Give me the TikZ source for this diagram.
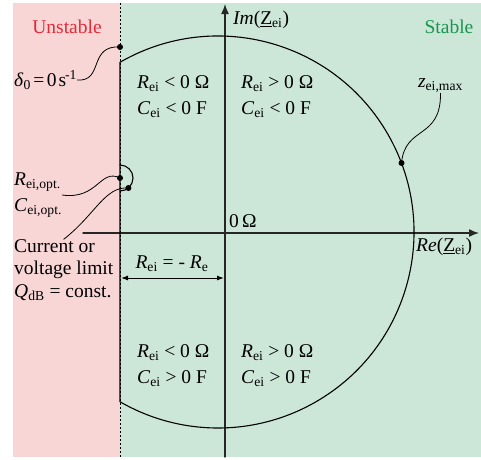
\documentclass[tikz,border=0pt]{standalone}
\usepackage{fontspec}
\setmainfont{Liberation Serif}
\usetikzlibrary{arrows.meta}

\definecolor{unstablebg}{RGB}{248,214,214}
\definecolor{stablebg}{RGB}{204,230,216}
\definecolor{unstablefg}{RGB}{230,40,55}
\definecolor{stablefg}{RGB}{26,150,78}
\newcommand{\eisub}[1]{\textit{#1}\textsubscript{ei}}

\begin{document}
\begin{tikzpicture}[x=1pt, y=-1pt, line cap=round, line join=round, >=Latex,
  every node/.style={font=\fontsize{19.5}{22.5}\selectfont, inner sep=0pt},
  region/.style={anchor=west, align=left, font=\fontsize{19.5}{26}\selectfont},
  axis/.style={line width=1.4pt, draw=black!85, -{Latex[length=10pt,width=8pt]}},
  curve/.style={line width=1.1pt},
  leader/.style={line width=0.8pt},
  dot/.style={circle, fill, inner sep=0pt, minimum size=6pt}]
  \useasboundingbox (0,0) rectangle (481,459);
  % half planes
  \fill[unstablebg] (13,3) rectangle (120,457);
  \fill[stablebg] (120,3) rectangle (481,457);
  \draw[line width=0.8pt, line cap=butt, dash pattern=on 2pt off 2pt] (120,3) -- (120,457);

  % axes
  \draw[axis] (225,457) -- (225,4);
  \draw[axis] (83,233) -- (479,233);

  % locus of z_ei
  \draw[curve] (218,232) ++(-120:196) arc[start angle=-120, end angle=120, radius=196] -- cycle;
  \draw[curve] (120,165) arc[start angle=-90, end angle=90, radius=13];

  \node[dot] (delta) at (120,47) {};
  \node[dot] (opt) at (120,178) {};
  \node[dot] (lim) at (128.4,188) {};
  \node[dot] (zmax) at (401.5,163) {};

  % labels
  \node[text=unstablefg] (unstable) at (67,27) {Unstable};
  \node[text=stablefg] (stable) at (449,27) {Stable};
  \node[anchor=west] (im) at (233,20) {\textit{Im}(\underline{Z}\textsubscript{ei})};
  \node[anchor=west] (re) at (416,247) {\textit{Re}(\underline{Z}\textsubscript{ei})};
  \node[anchor=west] (zero) at (229,221) {0\,Ω};
  \node[anchor=west] (delta label) at (14,80) {\textit{δ}\textsubscript{0}\kern2.5pt=\kern2.5pt0\kern2pt s\kern-1pt\textsuperscript{-1}};
  \node (zmax label) at (440.5,86) {\textit{z}\textsubscript{ei,max}};
  \node[region] (opt label) at (14,195) {\textit{R}\textsubscript{ei,opt.}\\\textit{C}\textsubscript{ei,opt.}};
  \node[anchor=west, align=left] (limit label) at (14,270) {Current or\\voltage limit\\\textit{Q}\textsubscript{dB} = const.};

  \node[region] (q2) at (137,97) {\eisub{R} < 0 Ω\\\eisub{C} < 0 F};
  \node[region] (q1) at (241,97) {\eisub{R} > 0 Ω\\\eisub{C} < 0 F};
  \node[region] (q3) at (137,366) {\eisub{R} < 0 Ω\\\eisub{C} > 0 F};
  \node[region] (q4) at (241,366) {\eisub{R} > 0 Ω\\\eisub{C} > 0 F};

  % R_ei = -R_e
  \coordinate (dim left) at (121,278);
  \coordinate (dim right) at (224,278);
  \draw[line width=1pt, {Latex[length=7pt,width=5pt]}-{Latex[length=7pt,width=5pt]}] (dim left) -- (dim right);
  \node (dim label) at (172,264) {\eisub{R} = - \textit{R}\textsubscript{e}};

  % leaders
  \draw[leader] (delta.center) .. controls (88,45) and (104,82) .. (delta label.east);
  \draw[leader] (zmax.center) .. controls (405,125) and (441,140) .. (zmax label.south);
  \draw[leader] (opt.center) .. controls (100,168) and (98,200) .. (opt label.east);
  \draw[leader] (lim.center) .. controls (105,186) and (95,215) .. (limit label.north);
\end{tikzpicture}
\end{document}
